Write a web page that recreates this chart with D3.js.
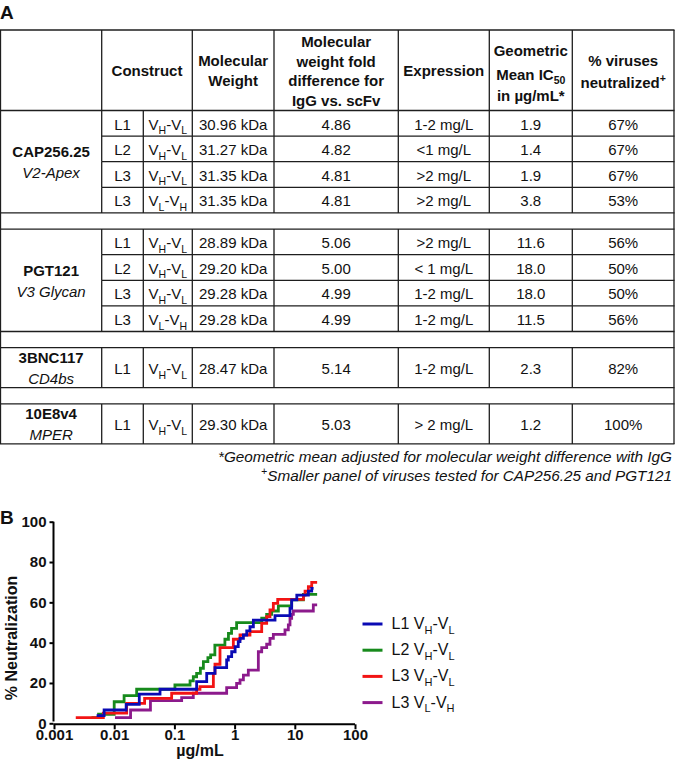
<!DOCTYPE html>
<html><head><meta charset="utf-8">
<script src="https://cdn.jsdelivr.net/npm/d3@7"></script>
<style>
body{margin:0;background:#fff}
svg{display:block}
text{font-family:"Liberation Sans",Arial,Helvetica,sans-serif;fill:#111}
</style>
</head><body>
<svg id="c" width="675" height="766"></svg>
<script>
// ---------- TABLE DATA ----------
const headers = [
  {col:[1,3], lines:["Construct"]},
  {col:[3,4], lines:["Molecular","Weight"]},
  {col:[4,5], lines:["Molecular","weight fold","difference for","IgG vs. scFv"]},
  {col:[5,6], lines:["Expression"]},
  {col:[6,7], lines:["Geometric","Mean IC_{50}","in µg/mL*"]},
  {col:[7,8], lines:["% viruses","neutralized^{+}"]}
];
const antibodies = ["CAP256.25","PGT121","3BNC117","10E8v4"];
const epitopes   = ["V2-Apex","V3 Glycan","CD4bs","MPER"];
const groupSizes = [4,4,1,1];
const linkers      = ["L1","L2","L3","L3","L1","L2","L3","L3","L1","L1"];
const orientations = ["V_{H}-V_{L}","V_{H}-V_{L}","V_{H}-V_{L}","V_{L}-V_{H}","V_{H}-V_{L}","V_{H}-V_{L}","V_{H}-V_{L}","V_{L}-V_{H}","V_{H}-V_{L}","V_{H}-V_{L}"];
const molWeights   = ["30.96 kDa","31.27 kDa","31.35 kDa","31.35 kDa","28.89 kDa","29.20 kDa","29.28 kDa","29.28 kDa","28.47 kDa","29.30 kDa"];
const foldDiffs    = ["4.86","4.82","4.81","4.81","5.06","5.00","4.99","4.99","5.14","5.03"];
const expressions  = ["1-2 mg/L","<1 mg/L",">2 mg/L",">2 mg/L",">2 mg/L","< 1 mg/L","1-2 mg/L","1-2 mg/L","1-2 mg/L","> 2 mg/L"];
const ic50s        = ["1.9","1.4","1.9","3.8","11.6","18.0","18.0","11.5","2.3","1.2"];
const neutralized  = ["67%","67%","67%","53%","56%","50%","50%","56%","82%","100%"];
const footnotes    = ["*Geometric mean adjusted for molecular weight difference with IgG",
                      "^{+}Smaller panel of viruses tested for CAP256.25 and PGT121"];

// ---------- CHART DATA ----------
const seriesLabels = ["L1 V_{H}-V_{L}","L2 V_{H}-V_{L}","L3 V_{H}-V_{L}","L3 V_{L}-V_{H}"];
const seriesColors = ["#0a0ab4","#178a1c","#f21414","#8c1a8c"];
const xTickValues = [0.001,0.01,0.1,1,10,100];
const xTickLabels = ["0.001","0.01","0.1","1","10","100"];
const yTickValues = [0,20,40,60,80,100];
const seriesL1 = [[0.0051,3.8],[0.0068,6.6],[0.0158,9.4],[0.0261,14.5],[0.0577,16.9],[0.234,20.7],[0.344,24.8],[0.472,27.6],[0.738,31.4],[0.787,33.1],[0.894,35.5],[1.02,38.0],[1.15,40.5],[1.23,42.1],[1.40,43.8],[1.59,45.8],[1.80,47.9],[2.05,51.2],[4.69,53.4],[8.32,57.0],[8.87,61.2],[10.8,63.6],[16.8,65.6],[19.1,66.9],[20.5,66.9]];
const seriesL2 = [[0.0042,2.8],[0.0055,4.5],[0.0100,10.7],[0.0146,13.7],[0.0236,16.9],[0.102,19.0],[0.182,21.0],[0.206,23.1],[0.234,24.8],[0.27,27.3],[0.303,30.6],[0.36,32.6],[0.40,33.9],[0.47,38.8],[0.69,41.7],[0.79,44.6],[0.89,47.1],[1.08,49.9],[2.82,52.1],[3.41,54.0],[4.13,55.7],[5.33,58.2],[8.87,61.2],[13.9,64.0],[23.5,64.0]];
const seriesL3HL = [[0.0023,2.8],[0.0066,5.0],[0.0161,9.9],[0.032,12.4],[0.090,14.9],[0.234,16.9],[0.266,18.2],[0.444,24.8],[0.472,29.3],[0.572,37.5],[0.953,41.7],[1.23,43.8],[1.80,45.5],[2.82,49.6],[3.41,52.9],[3.87,56.2],[4.40,59.5],[5.2,61.5],[13.9,63.6],[14.8,65.6],[16.8,67.8],[19.1,69.9],[23.5,69.9]];
const seriesL3LH = [[0.0103,2.8],[0.0187,6.6],[0.040,11.2],[0.132,12.7],[0.206,14.9],[0.738,17.7],[1.08,19.8],[1.23,21.5],[1.40,23.9],[1.69,26.4],[2.48,35.5],[2.82,37.5],[3.41,39.2],[3.87,42.1],[4.40,44.1],[6.87,46.3],[7.81,48.8],[8.32,52.1],[8.87,54.0],[9.46,55.7],[20.3,58.7],[23.5,58.7]];
const seriesData = [seriesL1, seriesL2, seriesL3HL, seriesL3LH];
const drawOrder = [3,1,2,0];

// ---------- helpers ----------
const svg = d3.select("#c");
const FONT = 15;
function rich(sel, str, size, subSize){
  subSize = subSize || Math.round(size*0.68);
  const parts = str.split(/(_\{[^}]*\}|\^\{[^}]*\})/).filter(s=>s.length);
  let off = 0;
  parts.forEach(p=>{
    let target=0, txt=p, fs=size;
    if (p.startsWith("_{")) { target = size*0.3; txt=p.slice(2,-1); fs=subSize; }
    else if (p.startsWith("^{")) { target = -size*0.38; txt=p.slice(2,-1); fs=subSize; }
    sel.append("tspan").attr("dy", target-off).attr("font-size", fs).text(txt);
    off = target;
  });
  return sel;
}

// ---------- TABLE ----------
const colX = [0.5,101.7,143.3,192.3,274,398.3,489.3,572.3,674];
const cx = (a,b)=> (colX[a]+colX[b])/2;
const tTop = 30, headBot = 110.5, rowH = 25.6, spacerH = 16.2, singleH = 40;
const tbl = svg.append("g");
const lineCol = "#1e1e1e", lw = 1.3;
function hline(y,x1,x2){ tbl.append("line").attr("x1",x1).attr("x2",x2).attr("y1",y).attr("y2",y).attr("stroke",lineCol).attr("stroke-width",lw); }
function vline(x,y1,y2){ tbl.append("line").attr("x1",x).attr("x2",x).attr("y1",y1).attr("y2",y2).attr("stroke",lineCol).attr("stroke-width",lw); }

svg.append("text").attr("x",0).attr("y",18.5).attr("font-size",19).attr("font-weight","bold").text("A");

// header
hline(tTop, colX[0]-0.5, colX[8]+0.5);
[1,3,4,5,6,7].forEach(i=>vline(colX[i], tTop, headBot));
headers.forEach((h,i)=>{
  const n = h.lines.length;
  let bases;
  if (n===1) bases=[75.7];
  else if (n===2 && i===1) bases=[65.5,85.5];
  else if (n===2) bases=[65.5,87.5];
  else if (n===3) bases=[55.5,79.5,100.5];
  else bases=[47,66.5,86,105.5];
  h.lines.forEach((ln,j)=>{
    const t = tbl.append("text").attr("x",cx(h.col[0],h.col[1])).attr("y",bases[j])
      .attr("text-anchor","middle").attr("font-weight","bold");
    rich(t, ln, FONT, 10.5);
  });
});

// body
let y = headBot, r = 0;
groupSizes.forEach((gs,gi)=>{
  hline(y, colX[0]-0.5, colX[8]+0.5);
  const gTop = y;
  const h = gs===1 ? singleH : rowH;
  for (let k=0;k<gs;k++){
    const yT = y, yB = y+h;
    if (k>0) hline(yT, colX[1], colX[8]+0.5);
    [1,2,3,4,5,6,7].forEach(i=>vline(colX[i], yT, yB));
    const base = (yT+yB)/2 + 6.3;
    const cells = [linkers[r], orientations[r], molWeights[r], foldDiffs[r], expressions[r], ic50s[r], neutralized[r]];
    cells.forEach((c,ci)=>{
      const t = tbl.append("text").attr("x",cx(ci+1,ci+2)).attr("y",base).attr("text-anchor","middle");
      rich(t, c, FONT, 10.5);
    });
    y = yB; r++;
  }
  const gMid = (gTop+y)/2;
  tbl.append("text").attr("x",cx(0,1)).attr("y",gMid-4.5).attr("text-anchor","middle")
    .attr("font-weight","bold").attr("font-size",FONT).text(antibodies[gi]);
  tbl.append("text").attr("x",cx(0,1)).attr("y",gMid+16.5).attr("text-anchor","middle")
    .attr("font-style","italic").attr("font-size",FONT).text(epitopes[gi]);
  hline(y, colX[0]-0.5, colX[8]+0.5);
  if (gi < groupSizes.length-1) y += spacerH;
});
vline(colX[0], tTop, y);
vline(colX[8], tTop, y);

footnotes.forEach((f,i)=>{
  const t = svg.append("text").attr("x",672).attr("y",461.5+i*19).attr("text-anchor","end")
    .attr("font-style","italic");
  rich(t, f, 15.3, 10.5);
});

// ---------- CHART ----------
svg.append("text").attr("x",0).attr("y",523.5).attr("font-size",19).attr("font-weight","bold").text("B");
const x = d3.scaleLog().domain([0.001,100]).range([54,355]);
const yS = d3.scaleLinear().domain([0,100]).range([723.3,521.7]);
const chart = svg.append("g");

const yAxis = chart.append("g").attr("transform","translate(53.5,0)")
  .call(d3.axisLeft(yS).tickValues(yTickValues).tickSize(4).tickSizeOuter(0).tickPadding(3));
const xAxis = chart.append("g").attr("transform","translate(0,724.3)")
  .call(d3.axisBottom(x).tickValues(xTickValues).tickFormat((d,i)=>xTickLabels[i]).tickSize(5).tickSizeOuter(0));
[yAxis,xAxis].forEach(a=>{
  a.select(".domain").attr("stroke","#000").attr("stroke-width",2);
  a.selectAll(".tick line").attr("stroke","#000").attr("stroke-width",2);
  a.selectAll(".tick text").attr("font-size",15).attr("font-weight","bold")
    .attr("font-family","'Liberation Sans',Arial,sans-serif").attr("fill","#111");
});
xAxis.selectAll(".tick text").attr("y",5.5);
xAxis.select(".domain").attr("d","M53.5,0H355");
yAxis.select(".domain").attr("d","M0,721.5V521.7");

chart.append("text").attr("transform","translate(17,638) rotate(-90)").attr("text-anchor","middle")
  .attr("font-size",16).attr("font-weight","bold").text("% Neutralization");
chart.append("text").attr("x",200).attr("y",755.5).attr("text-anchor","middle")
  .attr("font-size",16).attr("font-weight","bold").text("µg/mL");

const line = d3.line().x(d=>x(d[0])).y(d=>yS(d[1])).curve(d3.curveStepAfter);
drawOrder.forEach(i=>{
  chart.append("path").datum(seriesData[i]).attr("d",line)
    .attr("fill","none").attr("stroke",seriesColors[i]).attr("stroke-width",2.8)
    .attr("stroke-linejoin","miter").attr("stroke-linecap","butt");
});

// legend
const lg = svg.append("g");
seriesLabels.forEach((s,i)=>{
  const ly = 624 + i*26.2;
  lg.append("line").attr("x1",362.5).attr("x2",382.5).attr("y1",ly).attr("y2",ly)
    .attr("stroke",seriesColors[i]).attr("stroke-width",3);
  const t = lg.append("text").attr("x",391.5).attr("y",ly+5).attr("fill","#222");
  rich(t, s, 16, 11);
});
</script>
</body></html>
